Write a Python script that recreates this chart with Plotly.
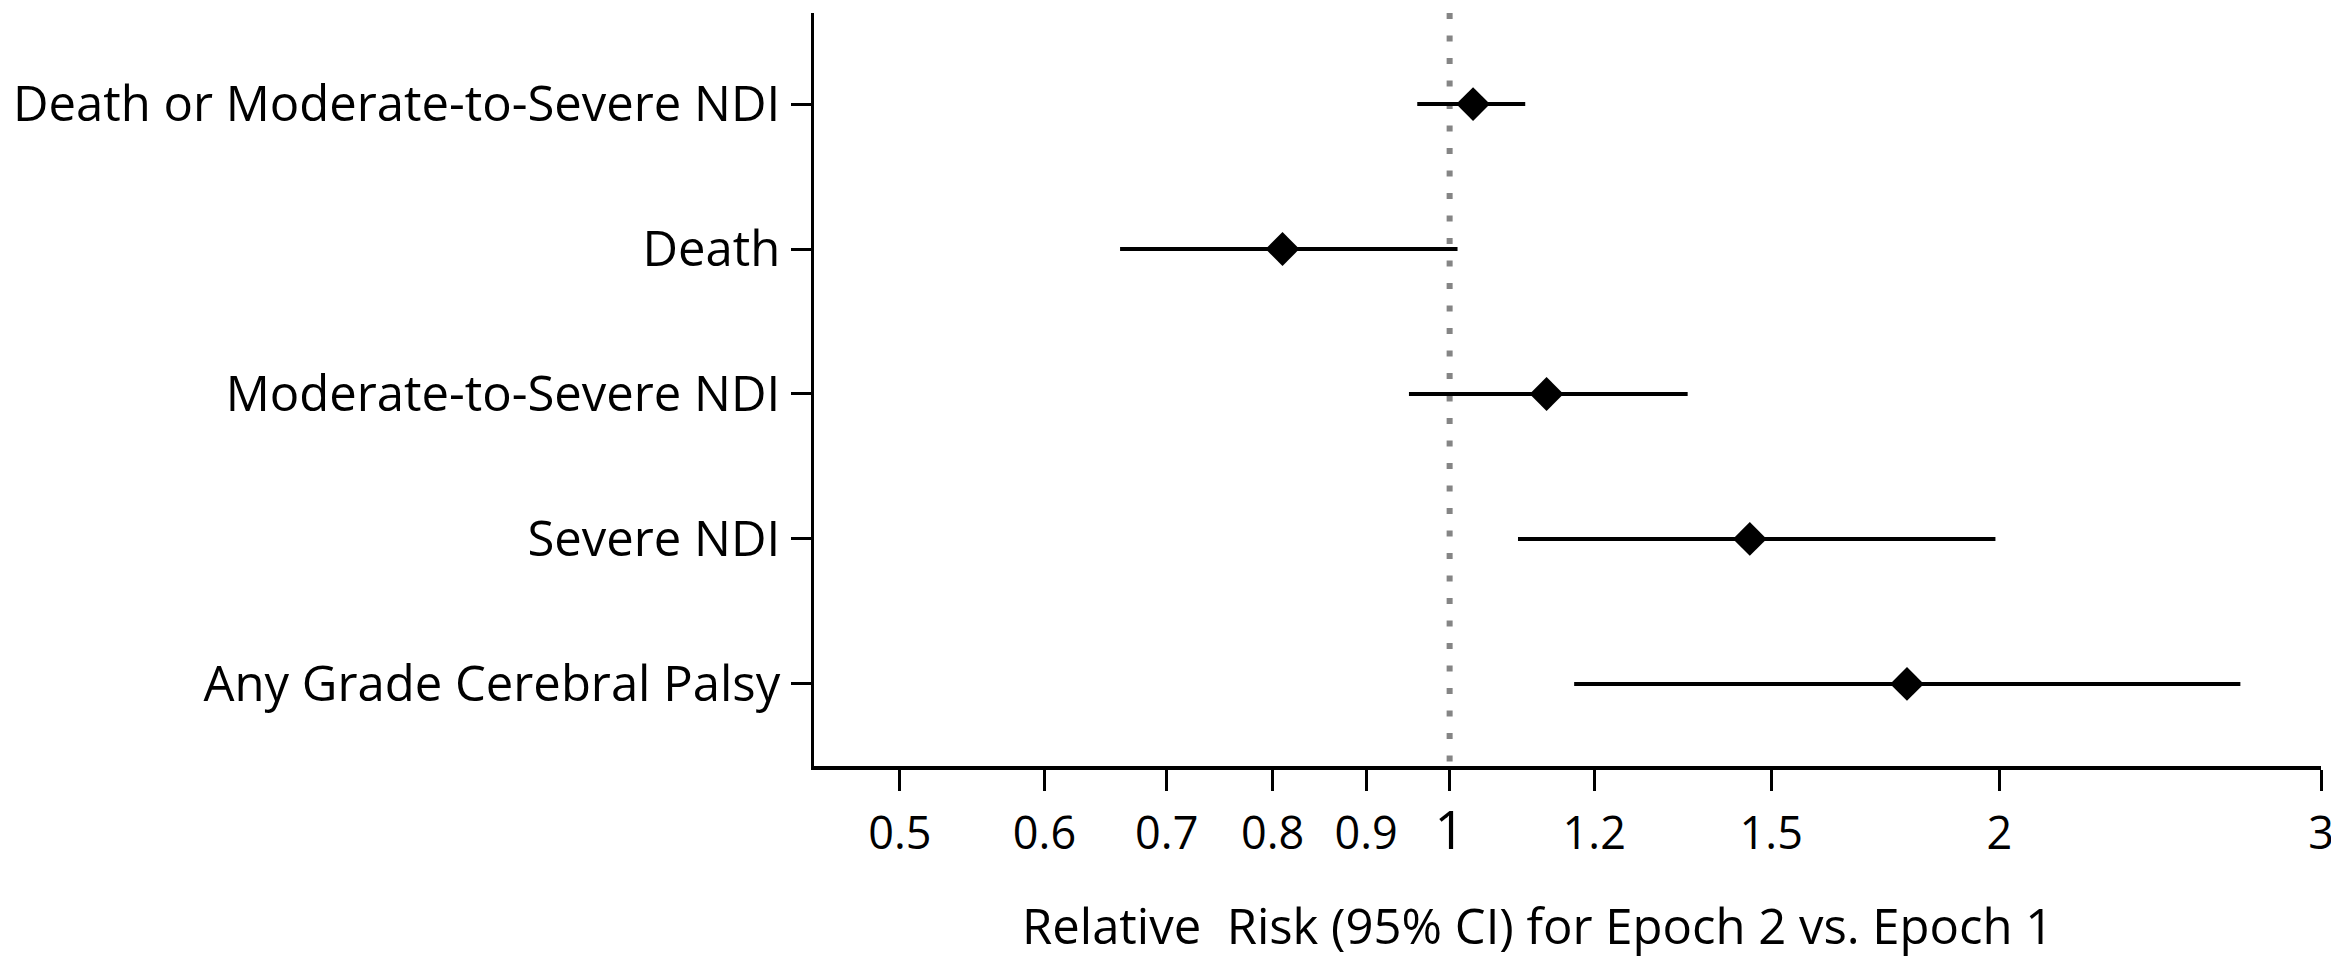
import plotly.graph_objects as go
import math

# ---- data ----
outcomes = [
    "Death or Moderate-to-Severe NDI",
    "Death",
    "Moderate-to-Severe NDI",
    "Severe NDI",
    "Any Grade Cerebral Palsy",
]
rr = [1.03, 0.81, 1.13, 1.46, 1.78]
ci_low = [0.96, 0.66, 0.95, 1.09, 1.17]
ci_high = [1.10, 1.01, 1.35, 1.99, 2.71]

tick_vals = [0.5, 0.6, 0.7, 0.8, 0.9, 1, 1.2, 1.5, 2, 3]
tick_text = ["0.5", "0.6", "0.7", "0.8", "0.9",
             "<span style='font-size:53px'>1</span>", "1.2", "1.5", "2", "3"]
x_title = "Relative\u00a0 Risk (95% CI) for Epoch 2 vs. Epoch 1"
ref_value = 1

FONT = "Open Sans"
# page body has an 8px default margin: shrink the figure so it fits the window
OFF = 8
W, H = 2339 - OFF, 960 - OFF
L, R, T, B = 813 - OFF, 16, 13 - OFF, 194
PW, PH = W - L - R, H - T - B

ypos = list(range(len(outcomes)))
y_range = [4.566, -0.628]
x_range = [math.log10(0.4487), math.log10(3)]

fig = go.Figure()

# reference line at RR = 1
fig.add_trace(go.Scatter(
    x=[ref_value, ref_value], y=[y_range[1], y_range[0]],
    mode="lines",
    line=dict(color="#858585", width=6, dash="6px,16.5px"),
    hoverinfo="skip", showlegend=False,
))

fig.add_trace(go.Scatter(
    x=rr, y=ypos,
    mode="markers",
    marker=dict(symbol="diamond", size=26, color="black", line=dict(width=0)),
    error_x=dict(
        type="data", symmetric=False,
        array=[h - v for h, v in zip(ci_high, rr)],
        arrayminus=[v - l for v, l in zip(rr, ci_low)],
        color="black", thickness=4, width=0,
    ),
    showlegend=False,
))

fig.update_layout(
    width=W, height=H,
    margin=dict(l=L, r=R, t=T, b=B, pad=0),
    paper_bgcolor="white", plot_bgcolor="white",
    font=dict(family=FONT, color="black"),
    xaxis=dict(
        type="log", range=x_range,
        tickvals=tick_vals, ticktext=tick_text,
        showgrid=False, zeroline=False,
        showline=True, linecolor="black", linewidth=3.5,
        ticks="outside", ticklen=21, tickwidth=3, tickcolor="black",
        tickfont=dict(family=FONT, size=45, color="black"),
        ticklabelstandoff=4,
    ),
    yaxis=dict(
        range=y_range,
        tickvals=ypos, ticktext=outcomes,
        showgrid=False, zeroline=False,
        showline=True, linecolor="black", linewidth=3,
        ticks="outside", ticklen=20, tickwidth=3, tickcolor="black",
        tickfont=dict(family=FONT, size=49, color="black"),
        ticklabelstandoff=1,
    ),
    annotations=[dict(
        text=x_title, xref="paper", yref="paper",
        x=(1538 - OFF - L) / PW, y=-(925 - OFF - (H - B)) / PH,
        xanchor="center", yanchor="middle", showarrow=False,
        font=dict(family=FONT, size=49, color="black"),
    )],
)

fig.write_html("out.html")
